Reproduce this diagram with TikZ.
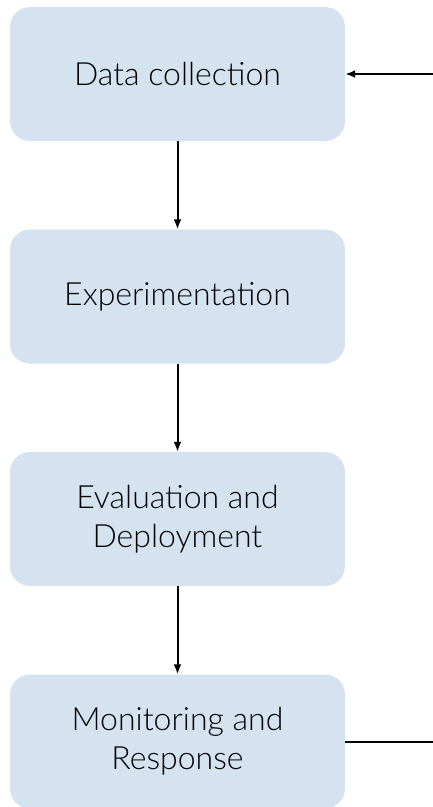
\documentclass[tikz,border=0pt]{standalone}
\usepackage{fontspec}
\setmainfont{Lato}[UprightFont=* Light]
\usetikzlibrary{arrows.meta}
\definecolor{boxblue}{RGB}{213,227,241}
\tikzset{
  stage/.style={fill=boxblue, rounded corners=20pt, minimum width=335pt, minimum height=134pt,
    align=center, font=\fontsize{32}{39}\selectfont, text=black, inner sep=0pt},
  flow/.style={draw=black, line width=2pt, -{Latex[length=10pt,width=8pt]}},
  plain/.style={draw=black, line width=2pt}
}
\begin{document}
\begin{tikzpicture}[x=1pt,y=-1pt]
  \useasboundingbox (0,0) rectangle (433,807);
  \node[stage] (collect) at (177.5,74) {Data collection};
  \node[stage] (experiment) at (177.5,296.5) {Experimentation};
  \node[stage] (evaluate) at (177.5,519) {Evaluation and\\Deployment};
  \node[stage] (monitor) at (177.5,741.5) {Monitoring and\\Response};
  \coordinate (inR) at (433,74);
  \coordinate (outR) at (433,741.5);
  \draw[flow] (collect) -- (experiment);
  \draw[flow] (experiment) -- (evaluate);
  \draw[flow] (evaluate) -- (monitor);
  \draw[flow] (inR) -- (collect);
  \draw[plain] (monitor) -- (outR);
\end{tikzpicture}
\end{document}
